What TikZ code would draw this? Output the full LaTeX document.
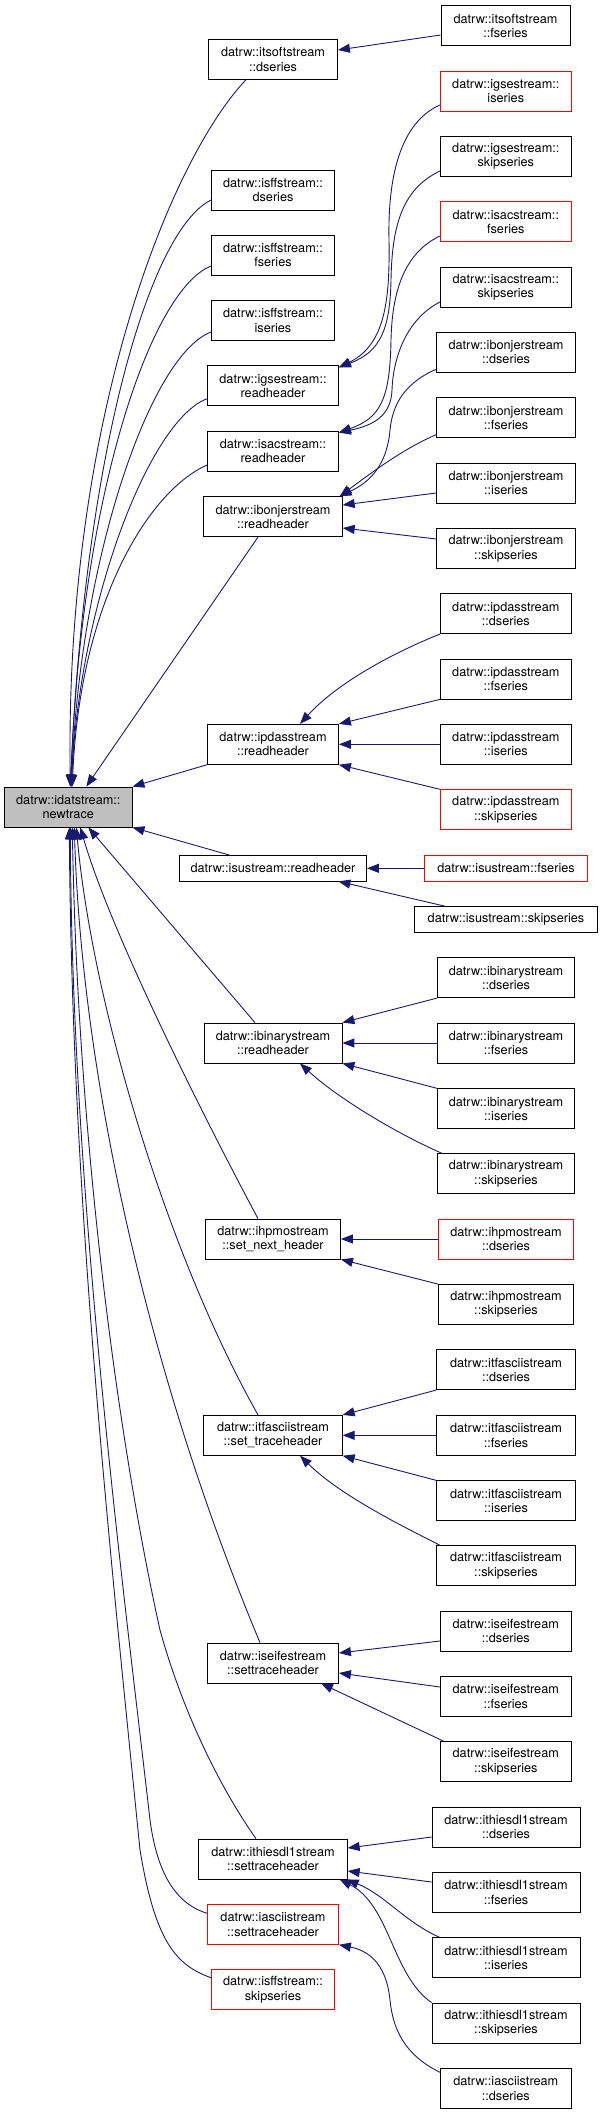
\documentclass[tikz,border=0pt]{standalone}
\usepackage{fontspec}
\setmainfont{TeX Gyre Heros}
\usetikzlibrary{arrows.meta}
\definecolor{edgeblue}{HTML}{191970}
\definecolor{rootgray}{HTML}{BFBFBF}
\begin{document}
\begin{tikzpicture}[x=1pt,y=-1pt,
 box/.style={draw=black, line width=0.8pt, rectangle, inner sep=0pt, minimum height=40pt, align=center, font=\fontsize{12.7}{14.3}\selectfont, text=black},
 redbox/.style={box, draw=red},
 rootbox/.style={box, fill=rootgray},
 onel/.style={minimum height=25.3pt},
 edge/.style={draw=edgeblue, line width=0.9pt, -{Triangle[length=12pt,width=9pt]}}
]
\useasboundingbox (0,0) rectangle (603,2115);
% ---------- middle column ----------
\node[box, minimum width=129pt] (itsoftD) at (273,59.3) {datrw::itsoftstream\\::dseries};
\node[box, minimum width=123pt] (isffD) at (273,190) {datrw::isffstream::\\dseries};
\node[box, minimum width=123pt] (isffF) at (273,255) {datrw::isffstream::\\fseries};
\node[box, minimum width=123pt] (isffI) at (273,320.5) {datrw::isffstream::\\iseries};
\node[box, minimum width=131pt] (igseRH) at (273,385.7) {datrw::igsestream::\\readheader};
\node[box, minimum width=131pt] (isacRH) at (273,451) {datrw::isacstream::\\readheader};
\node[box, minimum width=138.5pt] (ibonRH) at (273,516.7) {datrw::ibonjerstream\\::readheader};
\node[box, minimum width=131pt] (ipdasRH) at (273,744.3) {datrw::ipdasstream\\::readheader};
\node[rootbox, minimum width=127.5pt] (newtrace) at (68.3,807) {datrw::idatstream::\\newtrace};
\node[box, onel, minimum width=187pt] (isuRH) at (273,868.3) {datrw::isustream::readheader};
\node[box, minimum width=138pt] (ibinRH) at (273,1043) {datrw::ibinarystream\\::readheader};
\node[box, minimum width=135pt] (ihpmoRH) at (273,1239) {datrw::ihpmostream\\::set\_next\_header};
\node[box, minimum width=138.5pt] (itfaRH) at (273,1435.3) {datrw::itfasciistream\\::set\_traceheader};
\node[box, minimum width=131pt] (iseiRH) at (273,1663) {datrw::iseifestream\\::settraceheader};
\node[box, minimum width=148.5pt] (ithiRH) at (273,1859) {datrw::ithiesdl1stream\\::settraceheader};
\node[redbox, minimum width=131pt] (iasciiRH) at (273,1924.3) {datrw::iasciistream\\::settraceheader};
\node[redbox, minimum width=123pt] (isffSkip) at (273,1989.7) {datrw::isffstream::\\skipseries};
% ---------- right column ----------
\node[box, minimum width=129pt] (itsoftF) at (505.5,25.7) {datrw::itsoftstream\\::fseries};
\node[redbox, minimum width=131pt] (igseI) at (505.8,91) {datrw::igsestream::\\iseries};
\node[box, minimum width=131pt] (igseS) at (505.8,156.5) {datrw::igsestream::\\skipseries};
\node[redbox, minimum width=131pt] (isacF) at (505.8,221.7) {datrw::isacstream::\\fseries};
\node[box, minimum width=131pt] (isacS) at (505.8,287) {datrw::isacstream::\\skipseries};
\node[box, minimum width=139pt] (ibonD) at (506,352.3) {datrw::ibonjerstream\\::dseries};
\node[box, minimum width=139pt] (ibonF) at (506,417.7) {datrw::ibonjerstream\\::fseries};
\node[box, minimum width=139pt] (ibonI) at (506,483.3) {datrw::ibonjerstream\\::iseries};
\node[box, minimum width=139pt] (ibonS) at (506,548.7) {datrw::ibonjerstream\\::skipseries};
\node[box, minimum width=131pt] (ipdasD) at (505.8,613.7) {datrw::ipdasstream\\::dseries};
\node[box, minimum width=131pt] (ipdasF) at (505.8,679) {datrw::ipdasstream\\::fseries};
\node[box, minimum width=131pt] (ipdasI) at (505.8,744.3) {datrw::ipdasstream\\::iseries};
\node[redbox, minimum width=131pt] (ipdasS) at (505.8,809.7) {datrw::ipdasstream\\::skipseries};
\node[redbox, onel, minimum width=162.7pt] (isuF) at (506,868.3) {datrw::isustream::fseries};
\node[box, onel, minimum width=182.7pt] (isuS) at (506,919.3) {datrw::isustream::skipseries};
\node[box, minimum width=137.3pt] (ibinD) at (506,977.7) {datrw::ibinarystream\\::dseries};
\node[box, minimum width=137.3pt] (ibinF) at (506,1043) {datrw::ibinarystream\\::fseries};
\node[box, minimum width=137.3pt] (ibinI) at (506,1108.7) {datrw::ibinarystream\\::iseries};
\node[box, minimum width=137.3pt] (ibinS) at (506,1173.7) {datrw::ibinarystream\\::skipseries};
\node[redbox, minimum width=135pt] (ihpmoD) at (506,1239) {datrw::ihpmostream\\::dseries};
\node[box, minimum width=135pt] (ihpmoS) at (506,1304.5) {datrw::ihpmostream\\::skipseries};
\node[box, minimum width=139pt] (itfaD) at (506,1369.7) {datrw::itfasciistream\\::dseries};
\node[box, minimum width=139pt] (itfaF) at (506,1435.3) {datrw::itfasciistream\\::fseries};
\node[box, minimum width=139pt] (itfaI) at (506,1500.7) {datrw::itfasciistream\\::iseries};
\node[box, minimum width=139pt] (itfaS) at (506,1565.7) {datrw::itfasciistream\\::skipseries};
\node[box, minimum width=131pt] (iseiD) at (505.8,1631) {datrw::iseifestream\\::dseries};
\node[box, minimum width=131pt] (iseiF) at (505.8,1696.3) {datrw::iseifestream\\::fseries};
\node[box, minimum width=131pt] (iseiS) at (505.8,1761.7) {datrw::iseifestream\\::skipseries};
\node[box, minimum width=148pt] (ithiD) at (506,1827) {datrw::ithiesdl1stream\\::dseries};
\node[box, minimum width=148pt] (ithiF) at (506,1892.3) {datrw::ithiesdl1stream\\::fseries};
\node[box, minimum width=148pt] (ithiI) at (506,1957.7) {datrw::ithiesdl1stream\\::iseries};
\node[box, minimum width=148pt] (ithiS) at (506,2023) {datrw::ithiesdl1stream\\::skipseries};
\node[box, minimum width=131pt] (iasciiD) at (505.8,2088.3) {datrw::iasciistream\\::dseries};
% ---------- edges into newtrace (top) ----------
\draw[edge] ([xshift=-27pt]itsoftD.south) .. controls (170,160) and (65,420) .. ([xshift=2pt]newtrace.north);
\draw[edge] ([yshift=-10pt]isffD.west) .. controls (150,230) and (85,450) .. ([xshift=2pt]newtrace.north);
\draw[edge] ([yshift=-11pt]isffF.west) .. controls (150,290) and (80,500) .. ([xshift=2.5pt]newtrace.north);
\draw[edge] ([yshift=-11.5pt]isffI.west) .. controls (150,355) and (80,560) .. ([xshift=3pt]newtrace.north);
\draw[edge] ([yshift=-13pt]igseRH.west) .. controls (150,420) and (80,600) .. ([xshift=3pt]newtrace.north);
\draw[edge] ([yshift=-14pt]isacRH.west) .. controls (150,490) and (80,600) .. ([xshift=4pt]newtrace.north);
\draw[edge] ([xshift=-15pt]ibonRH.south) -- ([xshift=18pt]newtrace.north);
\draw[edge] (ipdasRH.south west) -- (newtrace.north east);
% ---------- edges into newtrace (bottom) ----------
\draw[edge] ([xshift=-43pt]isuRH.north) -- (newtrace.south east);
\draw[edge] ([xshift=-18pt]ibinRH.north) -- ([xshift=20pt]newtrace.south);
\draw[edge] ([xshift=-15pt]ihpmoRH.north) .. controls (200,1110) and (110,930) .. ([xshift=12pt]newtrace.south);
\draw[edge] ([xshift=-15pt]itfaRH.north) .. controls (165,1250) and (92,1000) .. ([xshift=8pt]newtrace.south);
\draw[edge] ([xshift=-13pt]iseiRH.north) .. controls (150,1380) and (82,1080) .. ([xshift=6pt]newtrace.south);
\draw[edge] ([xshift=-17pt]ithiRH.north) .. controls (225,1795) and (185,1720) .. (160,1630) .. controls (120,1450) and (78,1150) .. ([xshift=4pt]newtrace.south);
\draw[edge] ([yshift=11pt]iasciiRH.west) .. controls (180,1905) and (158,1880) .. (150,1820) .. controls (125,1600) and (72,1200) .. ([xshift=2pt]newtrace.south);
\draw[edge] ([yshift=12pt]isffSkip.west) .. controls (175,1965) and (155,1940) .. (140,1850) .. controls (110,1550) and (72,1200) .. ([xshift=1pt]newtrace.south);
% ---------- right-side edges ----------
\draw[edge] ([yshift=-9.3pt]itsoftF.west) -- ([yshift=9.3pt]itsoftD.east);
\draw[edge] ([yshift=-14pt]igseI.west) .. controls (395,125) and (388,190) .. (389,240) .. controls (390,300) and (385,345) .. ([yshift=-2pt]igseRH.north east);
\draw[edge] ([yshift=-14.5pt]igseS.west) .. controls (400,190) and (392,230) .. (391,280) .. controls (390,330) and (380,352) .. ([yshift=-2pt]igseRH.north east);
\draw[edge] ([yshift=-14.3pt]isacF.west) .. controls (400,255) and (392,300) .. (391,340) .. controls (390,400) and (380,418) .. ([yshift=-2pt]isacRH.north east);
\draw[edge] ([yshift=-15pt]isacS.west) .. controls (405,320) and (393,360) .. (392,390) .. controls (391,415) and (375,425) .. ([yshift=-2pt]isacRH.north east);
\draw[edge] ([yshift=-17pt]ibonD.west) .. controls (400,385) and (392,410) .. (390,430) .. controls (387,465) and (370,482) .. ([xshift=-3pt]ibonRH.north east);
\draw[edge] ([yshift=-17pt]ibonF.west) .. controls (405,448) and (375,470) .. ([xshift=-3pt]ibonRH.north east);
\draw[edge] ([yshift=-9.7pt]ibonI.west) -- ([yshift=11.7pt]ibonRH.east);
\draw[edge] ([yshift=9.7pt]ibonS.west) -- ([yshift=-11.3pt]ibonRH.east);
\draw[edge] (ipdasD.south west) .. controls (400,650) and (340,680) .. ([xshift=27pt]ipdasRH.north);
\draw[edge] (ipdasF.south west) -- (ipdasRH.north east);
\draw[edge] (ipdasI.west) -- (ipdasRH.east);
\draw[edge] (ipdasS.north west) -- (ipdasRH.south east);
\draw[edge] (isuF.west) -- (isuRH.east);
\draw[edge] ([xshift=31pt]isuS.north west) -- ([xshift=-28.5pt]isuRH.south east);
\draw[edge] (ibinD.south west) -- (ibinRH.north east);
\draw[edge] (ibinF.west) -- (ibinRH.east);
\draw[edge] (ibinI.north west) -- (ibinRH.south east);
\draw[edge] ([xshift=5pt]ibinS.north west) .. controls (400,1135) and (340,1100) .. ([xshift=27pt]ibinRH.south);
\draw[edge] (ihpmoD.west) -- (ihpmoRH.east);
\draw[edge] (ihpmoS.north west) -- (ihpmoRH.south east);
\draw[edge] (itfaD.south west) -- (itfaRH.north east);
\draw[edge] (itfaF.west) -- (itfaRH.east);
\draw[edge] (itfaI.north west) -- (itfaRH.south east);
\draw[edge] ([xshift=4pt]itfaS.north west) .. controls (400,1525) and (340,1495) .. ([xshift=27pt]itfaRH.south);
\draw[edge] ([yshift=-10pt]iseiD.west) -- ([yshift=10pt]iseiRH.east);
\draw[edge] ([yshift=9.3pt]iseiF.west) -- ([yshift=-10pt]iseiRH.east);
\draw[edge] ([xshift=4pt]iseiS.north west) -- ([xshift=48pt]iseiRH.south);
\draw[edge] ([yshift=-10pt]ithiD.west) -- ([yshift=11pt]ithiRH.east);
\draw[edge] ([yshift=10.3pt]ithiF.west) -- ([yshift=-12pt]ithiRH.east);
\draw[edge] ([xshift=8pt]ithiI.north west) .. controls (405,1922) and (385,1895) .. ([xshift=-1pt]ithiRH.south east);
\draw[edge] (ithiS.north west) .. controls (392,1975) and (390,1905) .. ([xshift=-8pt]ithiRH.south east);
\draw[edge] ([yshift=16pt]iasciiD.west) .. controls (405,2055) and (393,2030) .. (390,2000) .. controls (386,1960) and (365,1950) .. (iasciiRH.south east);
\end{tikzpicture}
\end{document}
